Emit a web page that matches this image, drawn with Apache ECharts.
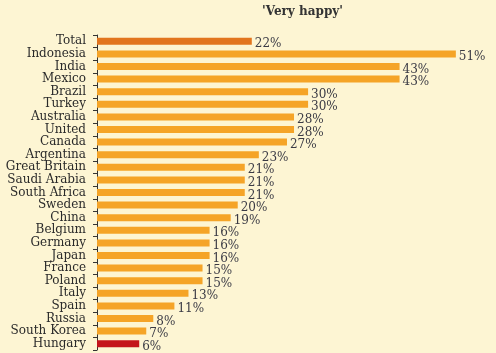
<!DOCTYPE html>
<html>
<head>
<meta charset="utf-8">
<script src="https://cdn.jsdelivr.net/npm/echarts@6/dist/echarts.min.js"></script>
<style>
  html, body { margin: 0; padding: 0; background: #fdf5d3; }
  #chart { width: 496px; height: 353px; }
</style>
</head>
<body>
<div id="chart"></div>
<script>
const countries = ['Total', 'Indonesia', 'India', 'Mexico', 'Brazil', 'Turkey', 'Australia', 'United', 'Canada',
  'Argentina', 'Great Britain', 'Saudi Arabia', 'South Africa', 'Sweden', 'China', 'Belgium', 'Germany', 'Japan',
  'France', 'Poland', 'Italy', 'Spain', 'Russia', 'South Korea', 'Hungary'];
const veryHappy = [22, 51, 43, 43, 30, 30, 28, 28, 27, 23, 21, 21, 21, 20, 19, 16, 16, 16, 15, 15, 13, 11, 8, 7, 6];

const barColor = '#f5a427';
const colorFor = name => name === 'Total' ? '#e2751e' : name === 'Hungary' ? '#c4141b' : barColor;

const chart = echarts.init(document.getElementById('chart'));

chart.setOption({
  backgroundColor: '#fdf5d3',
  title: {
    text: "'Very happy'",
    left: 257,
    top: 1,
    textStyle: { fontFamily: 'DejaVu Serif', fontSize: 12, fontWeight: 'bold', color: '#333' }
  },
  grid: { left: 97, right: 12, top: 35, bottom: 3 },
  xAxis: {
    type: 'value',
    min: 0,
    max: 55,
    show: false
  },
  yAxis: {
    type: 'category',
    inverse: true,
    data: countries,
    axisLine: { lineStyle: { color: '#333', width: 1 } },
    axisTick: { show: true, length: 4, lineStyle: { color: '#333' } },
    axisLabel: {
      interval: 0,
      margin: 11,
      fontFamily: 'DejaVu Serif',
      fontSize: 12,
      lineHeight: 12,
      color: '#2a2a2a'
    }
  },
  series: [{
    type: 'bar',
    data: veryHappy.map((v, i) => ({ value: v, itemStyle: { color: colorFor(countries[i]) } })),
    barWidth: 7,
    label: {
      show: true,
      position: 'right',
      distance: 3,
      offset: [0, 3],
      formatter: '{c}%',
      fontFamily: 'DejaVu Serif',
      fontSize: 12,
      color: '#3a3a44'
    }
  }]
});
</script>
</body>
</html>
